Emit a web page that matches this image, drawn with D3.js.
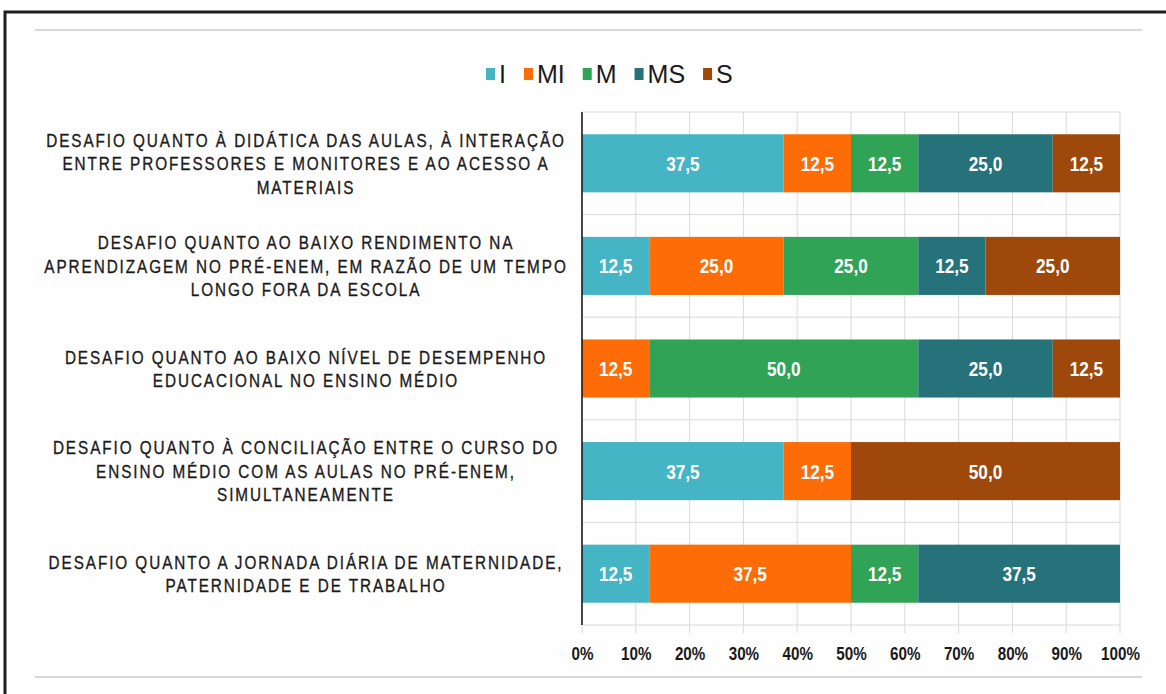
<!DOCTYPE html>
<html>
<head>
<meta charset="utf-8">
<script src="https://cdn.jsdelivr.net/npm/d3@7"></script>
<style>
  body { margin: 0; background: #fff; }
  svg { display: block; }
  text { font-family: "Liberation Sans", Arial, sans-serif; }
</style>
</head>
<body>
<svg id="chart" width="1166" height="694"></svg>
<script>
// categories (one entry per bar, split into the lines shown on the left)
var categories = [
  ['DESAFIO QUANTO À DIDÁTICA DAS AULAS, À INTERAÇÃO', 'ENTRE PROFESSORES E MONITORES E AO ACESSO A', 'MATERIAIS'],
  ['DESAFIO QUANTO AO BAIXO RENDIMENTO NA', 'APRENDIZAGEM NO PRÉ-ENEM, EM RAZÃO DE UM TEMPO', 'LONGO FORA DA ESCOLA'],
  ['DESAFIO QUANTO AO BAIXO NÍVEL DE DESEMPENHO', 'EDUCACIONAL NO ENSINO MÉDIO'],
  ['DESAFIO QUANTO À CONCILIAÇÃO ENTRE O CURSO DO', 'ENSINO MÉDIO COM AS AULAS NO PRÉ-ENEM,', 'SIMULTANEAMENTE'],
  ['DESAFIO QUANTO A JORNADA DIÁRIA DE MATERNIDADE,', 'PATERNIDADE E DE TRABALHO']
];
var seriesNames = ['I', 'MI', 'M', 'MS', 'S'];
var seriesColors = ['#45b5c6', '#fd6c06', '#31a356', '#26727a', '#9f480c'];
var valuesI  = [37.5, 12.5, 0, 37.5, 12.5];
var valuesMI = [12.5, 25.0, 12.5, 12.5, 37.5];
var valuesM  = [12.5, 25.0, 50.0, 0, 12.5];
var valuesMS = [25.0, 12.5, 25.0, 0, 37.5];
var valuesS  = [12.5, 25.0, 12.5, 50.0, 0];
var tickValues = [0, 10, 20, 30, 40, 50, 60, 70, 80, 90, 100];

(function () {
  'use strict';

  var svg = d3.select('#chart');
  var W = 1166, H = 694;
  var left = 582, right = 1120, top = 112, bottom = 625;

  var allValues = [valuesI, valuesMI, valuesM, valuesMS, valuesS];
  var rows = categories.map(function (c, i) {
    var r = { key: i };
    seriesNames.forEach(function (s, j) { r[s] = allValues[j][i]; });
    return r;
  });

  var ptBR = d3.formatLocale({ decimal: ',', thousands: '.', grouping: [3], currency: ['R$', ''] });
  var fmt = ptBR.format('.1f');

  var xScale = d3.scaleLinear().domain([0, 100]).range([left, right]);
  var yScale = d3.scaleBand()
    .domain(d3.range(categories.length))
    .range([top, bottom])
    .paddingInner(0.434)
    .paddingOuter(0.217);
  var color = d3.scaleOrdinal().domain(seriesNames).range(seriesColors);

  // frames
  svg.append('rect').attr('width', W).attr('height', H).attr('fill', '#fff');
  svg.append('rect')
    .attr('x', 5).attr('y', 12).attr('width', 1200).attr('height', 720)
    .attr('fill', 'none').attr('stroke', '#1e1e1e').attr('stroke-width', 3);
  svg.append('rect')
    .attr('x', 35).attr('y', 29).attr('width', 1107).attr('height', 648)
    .attr('fill', '#fefefe');
  svg.append('g').attr('stroke', '#d8d8d8').attr('stroke-width', 2)
    .selectAll('line').data([30, 677]).enter().append('line')
    .attr('x1', 35).attr('x2', 1142)
    .attr('y1', function (d) { return d; }).attr('y2', function (d) { return d; });

  // grid
  var grid = svg.append('g').attr('stroke', '#dadada').attr('stroke-width', 1);
  grid.selectAll('line.v').data(tickValues).enter().append('line')
    .attr('class', 'v')
    .attr('x1', function (d) { return xScale(d); })
    .attr('x2', function (d) { return xScale(d); })
    .attr('y1', top).attr('y2', bottom + 8);
  var step = yScale.step();
  var bounds = d3.range(categories.length + 1).map(function (i) {
    return top + i * step;
  });
  grid.selectAll('line.h').data(bounds).enter().append('line')
    .attr('class', 'h')
    .attr('x1', left).attr('x2', right)
    .attr('y1', function (d) { return d; })
    .attr('y2', function (d) { return d; });

  // stacked bars
  var stacked = d3.stack().keys(seriesNames)(rows);
  var layers = svg.append('g').selectAll('g').data(stacked).enter().append('g')
    .attr('fill', function (d) { return color(d.key); });
  layers.selectAll('rect').data(function (d) { return d; }).enter().append('rect')
    .attr('x', function (d) { return xScale(d[0]); })
    .attr('y', function (d) { return yScale(d.data.key); })
    .attr('width', function (d) { return xScale(d[1]) - xScale(d[0]); })
    .attr('height', yScale.bandwidth());

  // value labels (condensed)
  layers.selectAll('text').data(function (d) {
      return d.filter(function (p) { return p[1] - p[0] > 0; });
    }).enter().append('text')
    .attr('transform', function (d) {
      var cx = (xScale(d[0]) + xScale(d[1])) / 2;
      var cy = yScale(d.data.key) + yScale.bandwidth() / 2;
      return 'translate(' + cx + ',' + cy + ') scale(0.82,1)';
    })
    .attr('dy', '0.36em')
    .attr('text-anchor', 'middle')
    .attr('fill', '#fff')
    .attr('font-size', 21)
    .attr('font-weight', 'bold')
    .text(function (d) { return fmt(d[1] - d[0]); });

  // axis line at 0
  svg.append('line')
    .attr('x1', xScale(0)).attr('x2', xScale(0))
    .attr('y1', top).attr('y2', bottom)
    .attr('stroke', '#111').attr('stroke-width', 1.5);

  // x axis labels
  var xAxis = svg.append('g')
    .attr('transform', 'translate(0,' + (bottom + 28) + ')')
    .call(d3.axisBottom(xScale).tickValues(tickValues).tickSize(0).tickPadding(0)
      .tickFormat(function (d) { return d + '%'; }));
  xAxis.select('.domain').remove();
  xAxis.selectAll('.tick text')
    .attr('y', 0).attr('dy', '0.36em')
    .attr('transform', 'scale(0.8,1)')
    .attr('font-family', '"Liberation Sans", Arial, sans-serif')
    .attr('font-size', 19).attr('font-weight', 'bold').attr('fill', '#1a1a1a');

  // category labels, condensed to the reference width
  var lineH = 23.5, labelX = 306, labelW = 520;
  var catG = svg.append('g');
  var probe = catG.append('text').attr('font-size', 19).attr('letter-spacing', 2.4)
    .text(categories[0][0]);
  var sx = labelW / probe.node().getComputedTextLength();
  probe.remove();
  categories.forEach(function (lines, i) {
    var cy = yScale(i) + yScale.bandwidth() / 2;
    var t = catG.append('text')
      .attr('transform', 'translate(' + labelX + ',0) scale(' + sx + ',1)')
      .attr('text-anchor', 'middle')
      .attr('font-size', 19)
      .attr('letter-spacing', 2.4)
      .attr('fill', '#1a1a1a')
      .attr('stroke', '#1a1a1a')
      .attr('stroke-width', 0.35);
    lines.forEach(function (ln, k) {
      t.append('tspan')
        .attr('x', 0)
        .attr('y', cy + (k - (lines.length - 1) / 2) * lineH)
        .attr('dy', '0.36em')
        .text(ln);
    });
  });

  // legend
  var legend = svg.append('g').attr('transform', 'translate(486,74)');
  var lx = 0;
  seriesNames.forEach(function (s) {
    var g = legend.append('g').attr('transform', 'translate(' + lx + ',0)');
    g.append('rect').attr('x', 0).attr('y', -6).attr('width', 9).attr('height', 12)
      .attr('fill', color(s));
    var t = g.append('text').attr('x', 13).attr('dy', '0.36em')
      .attr('font-size', 25).attr('fill', '#1a1a1a').text(s);
    lx += 13 + t.node().getComputedTextLength() + 18;
  });
})();
</script>
</body>
</html>
